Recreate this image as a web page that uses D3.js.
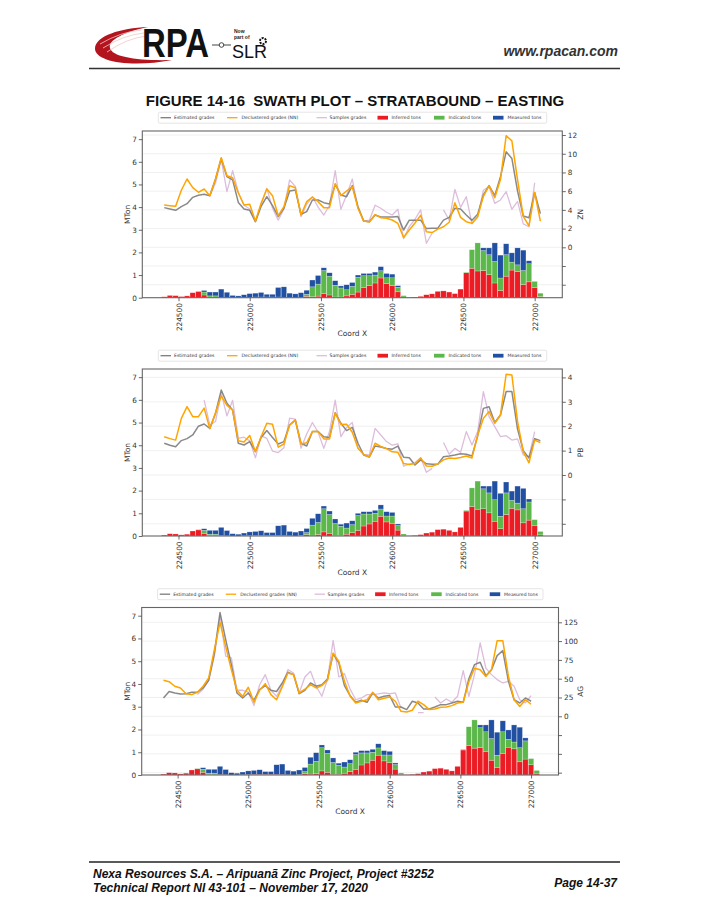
<!DOCTYPE html>
<html><head><meta charset="utf-8">
<script src="https://cdn.jsdelivr.net/npm/d3@7/dist/d3.min.js"></script>
<style>body{margin:0;background:#fff} svg{display:block}</style>
</head><body>
<svg id="page" width="710" height="919"></svg>
<script>
// ---------------- DATA ----------------
const coordX = [224400,224440,224480,224520,224560,224600,224640,224680,224720,224760,
  224800,224840,224880,224920,224960,225000,225040,225080,225120,225160,
  225200,225240,225280,225320,225360,225400,225440,225480,225520,225560,
  225600,225640,225680,225720,225760,225800,225840,225880,225920,225960,
  226000,226040,226080,226120,226160,226200,226240,226280,226320,226360,
  226400,226440,226480,226520,226560,226600,226640,226680,226720,226760,
  226800,226840,226880,226920,226960,227000,227040];
const xTickValues = [224500,225000,225500,226000,226500,227000];
const leftTickValues = [0,1,2,3,4,5,6,7];

const inferredTons = [.04,.10,.09,.05,.08,.22,.27,.12,.02,.01,
  .02,.01,0,0,.01,.02,.03,.03,.03,.03,
  .03,.02,.01,0,.01,.06,.04,.07,.18,.12,
  .03,.03,.08,.15,.25,.44,.53,.65,.87,.62,
  .54,.26,.03,.01,.03,.06,.13,.17,.28,.30,
  .25,.18,.38,1.10,1.30,1.18,1.20,1.02,.65,.32,
  .95,1.22,1.15,.58,.70,.45,.05];
const indicatedTons = [0,0,0,0,0,0,.02,.13,.06,.07,
  0,0,0,0,0,0,0,0,0,0,
  0,0,0,0,.01,.09,.44,.53,1.02,.83,
  .52,.40,.27,.35,.65,.53,.44,.35,.32,.26,
  .34,.20,.06,0,0,0,0,0,0,0,
  0,0,0,.03,.82,1.24,.88,.88,.95,.55,
  .95,.35,.30,.62,.80,.27,.15];
const measuredTons = [0,0,0,0,0,0,0,.07,.17,.17,
  .36,.23,.10,.08,.12,.16,.17,.20,.12,.12,
  .42,.46,.19,.17,.20,.18,.30,.38,.12,.15,
  .20,.09,.22,.17,.10,.10,.10,.13,.18,.19,
  .16,.07,0,0,0,0,0,0,0,0,
  0,0,0,0,0,0,.12,.30,.82,1.01,
  .48,.41,.75,.90,.13,0,0];

// ZN grades
const estZN = [4.24,4.1,3.95,4.34,4.66,5.34,5.56,5.66,5.52,7.3,
  9.5,7.55,7.2,4.8,4.1,3.95,2.74,4.38,5.41,4.45,
  3.28,4.17,6.02,6.13,3.53,3.81,5.06,5.06,4.77,4.63,
  6.73,5.59,5.41,6.59,4.34,2.8,2.74,3.45,3.24,3.24,
  3.24,3.28,1.85,2.9,2.9,2.9,2.0,2.05,2.05,2.9,
  3.2,4.17,4.1,3.45,2.88,3.53,5.59,6.59,5.52,7.55,
  10.2,9.5,6.0,3.35,3.15,5.86,3.6];
const decZN = [4.52,4.45,4.38,6.1,7.3,6.37,5.88,6.23,5.52,7.3,
  9.58,7.65,7.44,5.8,4.52,4.6,2.8,4.7,6.23,5.52,
  3.38,4.34,6.59,6.37,3.45,4.88,5.38,4.88,4.24,4.24,
  6.8,5.52,6.02,6.48,4.17,2.8,2.7,3.5,3.17,3.1,
  2.92,2.55,1.05,1.85,2.6,3.42,1.67,1.58,1.94,2.2,
  2.68,4.75,3.2,2.74,2.56,3.28,5.45,6.58,5.3,7.24,
  11.93,11.38,7.2,3.3,2.3,5.86,2.8];
const sampZN = [null,null,null,null,null,null,null,null,5.5,6.9,
  9.4,5.95,8.2,5.88,4.5,4.1,2.74,4.6,6.3,4.17,
  2.9,4.1,7.2,6.5,3.28,4.6,5.4,4.3,3.45,4.5,
  8.2,4.06,5.6,7.3,4.2,2.8,2.9,4.5,4.17,3.75,
  3.45,4.06,0.93,2.2,3.0,4.0,0.43,1.5,null,4.0,
  2.92,6.2,4.27,5.41,2.5,3.2,6.1,6.5,4.7,5.06,
  5.95,4.06,4.9,2.5,2.2,6.9,null];

// PB grades
const estPB = [1.3,1.22,1.16,1.41,1.49,1.64,2.0,2.09,1.91,2.53,
  3.48,2.94,2.66,1.3,1.23,1.37,0.96,1.54,1.82,1.54,
  1.27,1.37,2.05,2.25,1.3,1.19,1.78,1.78,1.57,1.54,
  2.55,2.12,1.82,1.95,1.3,0.82,0.74,1.19,1.15,1.09,
  1.06,1.18,0.73,0.71,0.41,0.62,0.46,0.44,0.44,0.75,
  0.78,0.82,0.87,0.85,0.78,1.6,2.73,2.8,2.15,2.46,
  3.42,3.42,1.88,1.0,0.7,1.49,1.41];
const decPB = [1.57,1.49,1.43,2.32,2.8,2.39,2.39,2.74,1.9,2.55,
  3.24,2.85,2.66,1.4,1.35,1.62,0.95,1.57,2.12,2.08,
  1.14,1.27,2.05,2.25,1.27,1.32,1.78,1.78,1.48,1.48,
  2.54,2.07,2.08,1.75,1.1,0.84,0.74,1.3,1.17,1.08,
  0.95,0.93,0.47,0.43,0.47,0.7,0.37,0.36,0.45,0.62,
  0.7,0.68,0.72,0.78,0.7,1.64,2.32,2.6,2.12,2.46,
  4.13,4.1,2.19,0.96,0.5,1.43,1.33];
const sampPB = [null,null,null,null,null,null,null,3.07,2.05,2.19,
  3.35,2.42,3.06,1.5,1.55,1.4,0.7,1.6,1.5,0.98,
  0.92,1.12,2.33,2.29,1.1,1.68,2.15,1.75,1.09,1.78,
  3.07,1.57,1.95,2.15,1.1,0.84,0.82,1.91,1.64,1.37,
  1.22,1.28,0.36,0.45,0.5,0.71,0.11,0.27,null,1.33,
  0.85,1.09,0.93,1.78,1.23,1.78,3.42,2.39,1.98,1.57,
  1.61,1.43,1.48,0.82,0.75,1.78,null];

// AG grades
const estAG = [24.4,33,31,29.7,30,32,32,37.7,48,84,
  138,102,68.7,31,24.4,31,21.3,35.5,40.8,34.6,
  33,44.3,58.5,55.4,30,34.6,44.3,40,42,49.6,
  83,71,40.8,27.5,18.6,21.3,18.6,31,24.4,26.6,
  27.5,12.4,12.4,8.9,20,17.7,9.8,9.8,12.4,15.5,
  15.5,17.7,20,18.6,50,68.7,71.8,54,62,80.7,
  87.3,46.5,22,17.7,24.4,20,null];
const decAG = [47.9,46,40,37.7,30,28.8,32,40,51,88.7,
  125,93,62,34.6,26.6,38.6,18.6,34.6,43.4,28.8,
  22,39,57.6,55.4,31,36,42,37.7,40.8,47.9,
  84,73,46.5,26.6,17.7,20,22,32,22,24,
  25.7,20,6.6,5.8,8,20,15.5,8.9,9.8,12,
  12.4,14.2,17.7,18.6,46,64,62,53,62,100.6,
  100.6,53,22,13,22,16,null];
const sampAG = [null,null,null,null,null,null,29,36,48,80,
  135,80,77.6,34.6,34.6,32,14.2,42,55.4,34.6,
  26.6,40.8,62,57.6,31,52.3,59.8,40,26.6,48.8,
  101,52.3,56.7,36.3,22,24.4,28.8,28.8,29.7,31,
  30,31,11,null,null,5,5,null,25.7,17.7,
  23,18.6,26.6,60.7,26.6,55.4,97.5,64,55.4,48.8,
  44.3,46.5,40,22,17.7,27.5,null];

const rTicksZN = [-4,-2,0,2,4,6,8,10,12];
const rTicksPB = [-2,-1,0,1,2,3,4];
const rTicksAG = [-75,-50,-25,0,25,50,75,100,125];

const seriesNames = ['Estimated grades','Declustered grades (NN)','Samples grades','Inferred tons','Indicated tons','Measured tons'];
const titleText = 'FIGURE 14-16  SWATH PLOT \u2013 STRATABOUND \u2013 EASTING';
const footer1 = 'Nexa Resources S.A. \u2013 Aripuan\u00e3 Zinc Project, Project #3252';
const footer2 = 'Technical Report NI 43-101 \u2013 November 17, 2020';
const pageLabel = 'Page 14-37';
const siteLabel = 'www.rpacan.com';

// ---------------- STYLE / LAYOUT ----------------
const C = {gray:'#7c7c7c', orange:'#ffa500', pink:'#dcbddc', red:'#ec1c24', green:'#5cb84a', blue:'#2150a2'};
const barColors = {inferred:C.red, indicated:C.green, measured:C.blue};
const F = 'DejaVu Sans, sans-serif';
const xDomain = [224246, 227194];

const panels = [
  {label:'ZN', est:estZN, dec:decZN, samp:sampZN, rTicks:rTicksZN, rDomain:[-5.385,12.43], top:131, bottom:297.7, left:142.3, right:562.3},
  {label:'PB', est:estPB, dec:decPB, samp:sampPB, rTicks:rTicksPB, rDomain:[-2.5,4.344], top:369, bottom:536, left:142.3, right:562.3},
  {label:'AG', est:estAG, dec:decAG, samp:sampAG, rTicks:rTicksAG, rDomain:[-78.1,144.7], top:607.5, bottom:775, left:141.7, right:558.5}
];

const svg = d3.select('#page');

// ---------------- HEADER ----------------
const hdr = svg.append('g');
hdr.append('path')
  .attr('d','M172,60 C132,68 94,62 95,48 C96,36 120,28 148,27 C124,32 108,40 110,48 C112,57 138,61 172,60 Z')
  .attr('fill','#b4141d');
[[100,44,141,30],[103,48,144,33],[107,52,147,36]].forEach(s=>{
  hdr.append('path').attr('d',`M${s[0]},${s[1]} Q${(s[0]+s[2])/2},${s[3]+2} ${s[2]},${s[3]}`)
    .attr('fill','none').attr('stroke','#f0c8c8').attr('stroke-width',1).attr('opacity',0.8);
});
hdr.append('text').attr('x',142).attr('y',57).text('RPA')
  .attr('font-family','Liberation Sans, Arial, sans-serif').attr('font-weight','bold')
  .attr('font-size',40).attr('textLength',67).attr('lengthAdjust','spacingAndGlyphs').attr('fill','#111');
hdr.append('line').attr('x1',212).attr('x2',231).attr('y1',45).attr('y2',45).attr('stroke','#444').attr('stroke-width',1);
hdr.append('circle').attr('cx',221.5).attr('cy',45).attr('r',2.3).attr('fill','#fff').attr('stroke','#333').attr('stroke-width',0.9);
hdr.append('text').attr('x',234).attr('y',33).text('Now').attr('font-family','Liberation Sans, Arial').attr('font-weight','bold').attr('font-size',5).attr('fill','#222');
hdr.append('text').attr('x',234).attr('y',38.5).text('part of').attr('font-family','Liberation Sans, Arial').attr('font-weight','bold').attr('font-size',5).attr('fill','#222');
hdr.append('text').attr('x',232).attr('y',57.5).text('SLR').attr('font-family','Liberation Sans, Arial').attr('font-size',18).attr('fill','#111');
hdr.append('circle').attr('cx',263).attr('cy',41).attr('r',3).attr('fill','none').attr('stroke','#111').attr('stroke-width',2).attr('stroke-dasharray','2 1.1');
hdr.append('text').attr('x',618).attr('y',56).attr('text-anchor','end').text(siteLabel)
  .attr('font-family','Liberation Sans, Arial').attr('font-weight','bold').attr('font-style','italic')
  .attr('font-size',14).attr('fill','#333');
hdr.append('line').attr('x1',89).attr('x2',620).attr('y1',68.5).attr('y2',68.5).attr('stroke','#333').attr('stroke-width',1.5);
hdr.append('text').attr('x',355).attr('y',106).attr('text-anchor','middle').text(titleText)
  .attr('font-family','Liberation Sans, Arial').attr('font-weight','bold').attr('font-size',15)
  .attr('fill','#111').style('white-space','pre').attr('xml:space','preserve');

// ---------------- FOOTER ----------------
svg.append('line').attr('x1',89).attr('x2',620).attr('y1',862).attr('y2',862).attr('stroke','#222').attr('stroke-width',1.4);
const ff = 'Liberation Sans, Arial';
svg.append('text').attr('x',93).attr('y',878).text(footer1).attr('font-family',ff).attr('font-weight','bold').attr('font-style','italic').attr('font-size',12).attr('fill','#111');
svg.append('text').attr('x',93).attr('y',892).text(footer2).attr('font-family',ff).attr('font-weight','bold').attr('font-style','italic').attr('font-size',12).attr('fill','#111');
svg.append('text').attr('x',617).attr('y',887).attr('text-anchor','end').text(pageLabel).attr('font-family',ff).attr('font-weight','bold').attr('font-style','italic').attr('font-size',12).attr('fill','#111');

// ---------------- PANELS ----------------
const rows = coordX.map((c,i)=>({x:c, inferred:inferredTons[i], indicated:indicatedTons[i], measured:measuredTons[i]}));
const stacked = d3.stack().keys(['inferred','indicated','measured'])(rows);

panels.forEach(p=>{
  const g = svg.append('g');
  const W = p.right - p.left;
  const L = v => p.left + (v - 142.3) * W / 420;
  const x = d3.scaleLinear().domain(xDomain).range([p.left, p.right]);
  const yL = d3.scaleLinear().domain([0, 7.36]).range([p.bottom, p.top]);
  const yR = d3.scaleLinear().domain(p.rDomain).range([p.bottom, p.top]);

  // grid (right axis)
  g.append('g').selectAll('line').data(p.rTicks).join('line')
    .attr('x1',p.left).attr('x2',p.right).attr('y1',d=>yR(d)).attr('y2',d=>yR(d))
    .attr('stroke','#ececec').attr('stroke-width',0.8);

  // bars
  const bw = x(coordX[1]) - x(coordX[0]);
  g.append('g').selectAll('g').data(stacked).join('g').attr('fill',d=>barColors[d.key])
    .selectAll('rect').data(d=>d.filter(s=>s[1]-s[0]>0)).join('rect')
    .attr('x',d=>x(d.data.x)-bw/2+0.15).attr('width',bw-0.3)
    .attr('y',d=>yL(d[1])).attr('height',d=>yL(d[0])-yL(d[1]))
    .attr('stroke','#fff').attr('stroke-opacity',0.45).attr('stroke-width',0.5);

  // lines
  const mk = arr => coordX.map((c,i)=>({x:c, v:arr[i]}));
  const lineGen = d3.line().defined(d=>d.v!=null).x(d=>x(d.x)).y(d=>yR(d.v));
  g.append('path').datum(mk(p.samp)).attr('d',lineGen).attr('fill','none').attr('stroke',C.pink).attr('stroke-width',1.3).attr('stroke-linejoin','round');
  g.append('path').datum(mk(p.est)).attr('d',lineGen).attr('fill','none').attr('stroke',C.gray).attr('stroke-width',1.5).attr('stroke-opacity',0.9).attr('stroke-linejoin','round');
  g.append('path').datum(mk(p.dec)).attr('d',lineGen).attr('fill','none').attr('stroke',C.orange).attr('stroke-width',1.5).attr('stroke-linejoin','round');

  // frame
  g.append('rect').attr('x',p.left).attr('y',p.top).attr('width',W).attr('height',p.bottom-p.top)
    .attr('fill','none').attr('stroke','#666').attr('stroke-width',1.1);

  // axes
  const styleAxis = sel => {
    sel.select('.domain').remove();
    sel.selectAll('.tick line').attr('stroke','#444').attr('stroke-width',0.8);
    sel.selectAll('.tick text').attr('font-family',F).attr('font-size',7.3).attr('fill','#333');
  };
  g.append('g').attr('transform',`translate(${p.left},0)`)
    .call(d3.axisLeft(yL).tickValues(leftTickValues).tickSize(3.5).tickPadding(2).tickFormat(d3.format('d')))
    .call(styleAxis);
  g.append('g').attr('transform',`translate(${p.right},0)`)
    .call(d3.axisRight(yR).tickValues(p.rTicks).tickSize(3.5).tickPadding(2).tickFormat(v=> v>=0 ? v : ''))
    .call(styleAxis);
  const ax = g.append('g').attr('transform',`translate(0,${p.bottom})`)
    .call(d3.axisBottom(x).tickValues(xTickValues).tickSize(3.5).tickFormat(d3.format('d')))
    .call(styleAxis);
  ax.selectAll('.tick text').attr('transform','rotate(-90)').attr('x',-5.5).attr('y',0).attr('dy','0.35em').attr('text-anchor','end');

  // axis labels
  g.append('text').attr('transform',`translate(127,${(p.top+p.bottom)/2}) rotate(-90)`).attr('text-anchor','middle').attr('dy','0.35em')
    .text('MTon').attr('font-family',F).attr('font-size',7.5).attr('fill','#333');
  g.append('text').attr('transform',`translate(580.5,${(p.top+p.bottom)/2}) rotate(-90)`).attr('text-anchor','middle').attr('dy','0.35em')
    .text(p.label).attr('font-family',F).attr('font-size',7.5).attr('fill','#333');
  g.append('text').attr('x',(p.left+p.right)/2).attr('y',p.bottom+38.5).attr('text-anchor','middle')
    .text('Coord X').attr('font-family',F).attr('font-size',7.5).attr('fill','#333');

  // legend
  const ly = p.top - 13.3;
  g.append('rect').attr('x',L(158.3)).attr('y',ly-5.5).attr('width',L(546.7)-L(158.3)).attr('height',11)
    .attr('rx',1.5).attr('fill','#fff').attr('stroke','#d4d4d4').attr('stroke-width',0.6);
  const items = [
    {t:'line', c:C.gray, x1:160.5, tx:174},
    {t:'line', c:C.orange, x1:227, tx:241.5},
    {t:'line', c:C.pink, x1:316.5, tx:329.5},
    {t:'patch', c:C.red, x1:377.5, tx:391.5},
    {t:'patch', c:C.green, x1:434, tx:448.5},
    {t:'patch', c:C.blue, x1:493, tx:507.5}
  ];
  items.forEach((it,k)=>{
    if(it.t==='line'){
      g.append('line').attr('x1',L(it.x1)).attr('x2',L(it.x1+10.5)).attr('y1',ly).attr('y2',ly).attr('stroke',it.c).attr('stroke-width',1.3);
    } else {
      g.append('rect').attr('x',L(it.x1)).attr('y',ly-1.9).attr('width',10.5).attr('height',3.8).attr('fill',it.c);
    }
    g.append('text').attr('x',L(it.tx)).attr('y',ly).attr('dy','0.35em').text(seriesNames[k])
      .attr('font-family',F).attr('font-size',4.6).attr('fill','#333');
  });
});
</script>
</body></html>
